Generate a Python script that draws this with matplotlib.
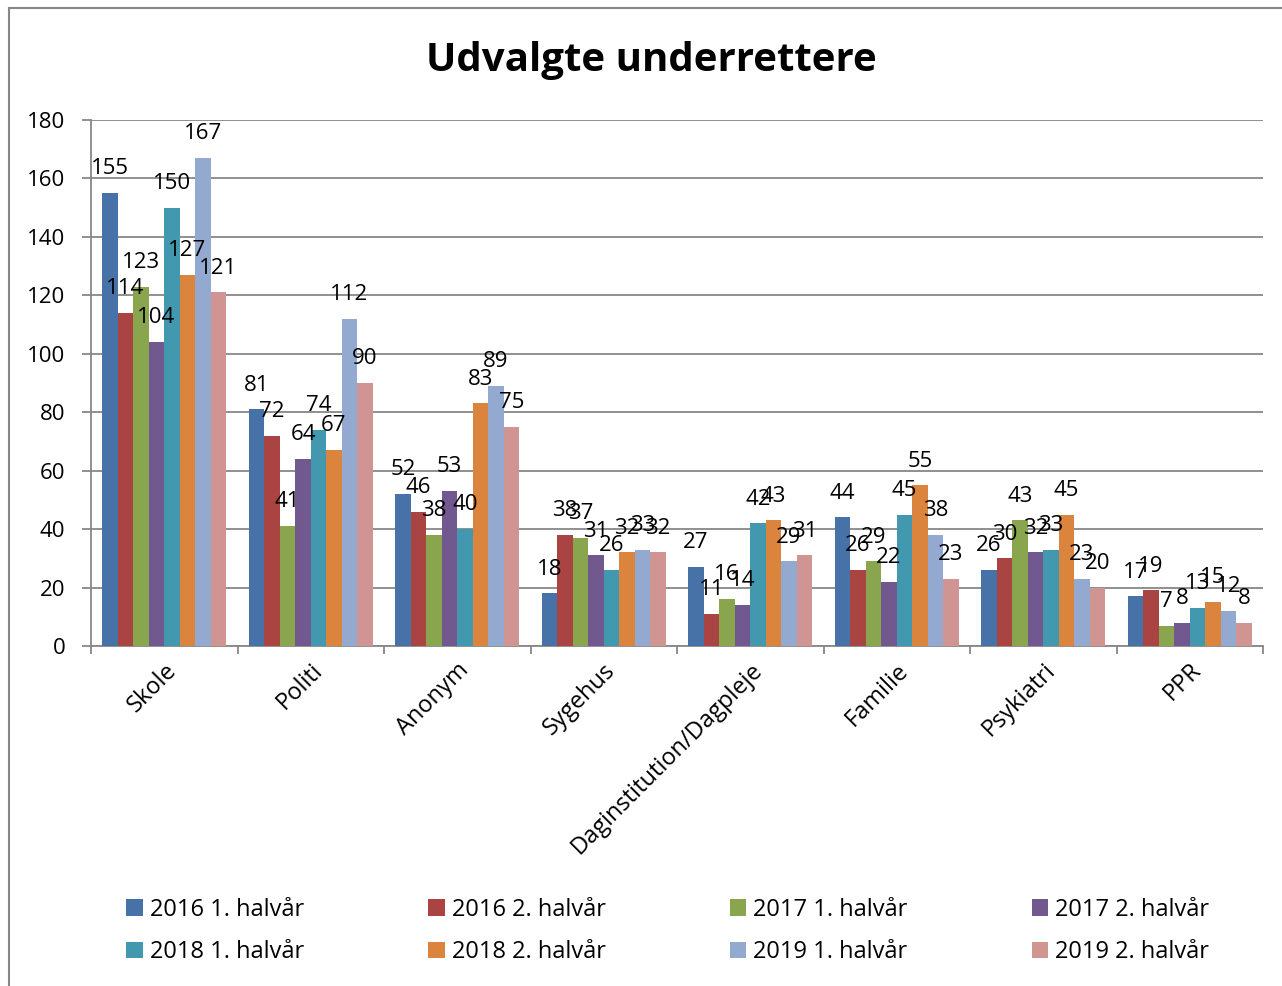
import numpy as np
import matplotlib
matplotlib.use("Agg")
import matplotlib.pyplot as plt
from matplotlib.lines import Line2D
from matplotlib.patches import Patch

plt.rcParams["font.family"] = ["Open Sans", "DejaVu Sans"]

CATEGORIES = ["Skole", "Politi", "Anonym", "Sygehus", "Daginstitution/Dagpleje",
              "Familie", "Psykiatri", "PPR"]
SERIES = ["2016 1. halvår", "2016 2. halvår", "2017 1. halvår", "2017 2. halvår",
          "2018 1. halvår", "2018 2. halvår", "2019 1. halvår", "2019 2. halvår"]

h2016_1 = [155, 81, 52, 18, 27, 44, 26, 17]
h2016_2 = [114, 72, 46, 38, 11, 26, 30, 19]
h2017_1 = [123, 41, 38, 37, 16, 29, 43, 7]
h2017_2 = [104, 64, 53, 31, 14, 22, 32, 8]
h2018_1 = [150, 74, 40, 26, 42, 45, 33, 13]
h2018_2 = [127, 67, 83, 32, 43, 55, 45, 15]
h2019_1 = [167, 112, 89, 33, 29, 38, 23, 12]
h2019_2 = [121, 90, 75, 32, 31, 23, 20, 8]
VALUES = [h2016_1, h2016_2, h2017_1, h2017_2, h2018_1, h2018_2, h2019_1, h2019_2]

COLORS = ["#4672a8", "#a94442", "#89a54e", "#71588f", "#4198af",
          "#db843d", "#93a9d0", "#d09493"]
AXIS_GREY = "#878787"
FS = 16

fig = plt.figure(figsize=(12.82, 9.86), dpi=100)
ax = fig.add_axes([91 / 1282, 1 - 646 / 986, (1263 - 91) / 1282, (646 - 120) / 986])

n = len(SERIES)
x = np.arange(len(CATEGORIES))
group_w = 0.846
bar_w = group_w / n
for i, (name, vals) in enumerate(zip(SERIES, VALUES)):
    xs = x - group_w / 2 + bar_w * (i + 0.5)
    ax.bar(xs, vals, width=bar_w, color=COLORS[i], label=name, zorder=3)
    for xi, v in zip(xs, vals):
        ax.annotate(str(v), (xi, v), xytext=(0, 13.5), textcoords="offset points",
                    ha="center", va="baseline", fontsize=FS, color="black", zorder=5)

ax.set_xlim(-0.5, len(CATEGORIES) - 0.5)
ax.set_ylim(0, 180)
ax.set_yticks(np.arange(0, 181, 20))
ax.yaxis.grid(True, color=AXIS_GREY, linewidth=1.3, zorder=0)
ax.set_axisbelow(True)

# major ticks at category boundaries, labels on minor ticks at centers
ax.set_xticks(np.arange(-0.5, len(CATEGORIES), 1.0))
ax.set_xticklabels([])
ax.set_xticks(x, minor=True)
ax.set_xticklabels(CATEGORIES, minor=True, rotation=45, ha="right",
                   rotation_mode="anchor", fontsize=17)
ax.tick_params(axis="x", which="minor", length=0, pad=9)
ax.tick_params(axis="x", which="major", length=6, width=1.3, color=AXIS_GREY)
ax.tick_params(axis="y", length=6.5, width=1.3, color=AXIS_GREY, pad=12, labelsize=FS)

for side in ["top", "right"]:
    ax.spines[side].set_visible(False)
for side in ["left", "bottom"]:
    ax.spines[side].set_color(AXIS_GREY)
    ax.spines[side].set_linewidth(1.3)

fig.text(0.508, 1 - 60 / 986, "Udvalgte underrettere", ha="center", va="center",
         fontsize=29, fontweight="bold")

# legend: two rows of four, filled row by row
order = [0, 4, 1, 5, 2, 6, 3, 7]
handles = [Patch(facecolor=COLORS[i]) for i in order]
labels = [SERIES[i] for i in order]
fig.legend(handles, labels, ncol=4, loc="center", bbox_to_anchor=(0.521, 1 - 931 / 986),
           frameon=False, fontsize=17, handlelength=0.7, handleheight=0.7,
           handletextpad=0.3, columnspacing=5.25, labelspacing=0.8)

# chart area frame
fig.add_artist(Line2D([9 / 1282, 9 / 1282], [0, 1 - 8 / 986], transform=fig.transFigure,
                      color=AXIS_GREY, linewidth=1.5))
fig.add_artist(Line2D([9 / 1282, 1], [1 - 8 / 986, 1 - 8 / 986], transform=fig.transFigure,
                      color=AXIS_GREY, linewidth=1.5))

fig.savefig("out.png", dpi=100, facecolor="white")
